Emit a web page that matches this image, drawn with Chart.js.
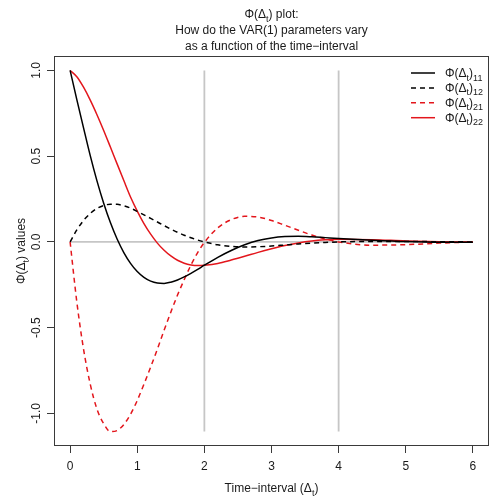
<!DOCTYPE html>
<html>
<head>
<meta charset="utf-8">
<script src="https://cdn.jsdelivr.net/npm/chart.js@4.4.1/dist/chart.umd.min.js"></script>
<style>
html,body{margin:0;padding:0;background:#fff;}
#wrap{width:491px;height:500px;}
</style>
</head>
<body>
<div id="wrap"><canvas id="c" width="491" height="500"></canvas></div>
<script>
// ---- data ----
const t = [0,0.1,0.2,0.3,0.4,0.5,0.6,0.7,0.8,0.9,1.0,1.1,1.2,1.3,1.4,1.5,1.6,1.7,1.8,1.9,2.0,
           2.2,2.4,2.6,2.8,3.0,3.2,3.4,3.6,3.8,4.0,4.5,5.0,5.5,6.0];
const phi11 = [1,0.83,0.665,0.503,0.356,0.226,0.113,0.017,-0.062,-0.125,-0.173,-0.207,-0.229,-0.240,-0.242,-0.235,-0.222,-0.204,-0.183,-0.160,-0.136,
               -0.090,-0.050,-0.017,0.008,0.023,0.031,0.033,0.030,0.025,0.020,0.010,0.002,-0.002,-0.002];
const phi12 = [0,0.07,0.125,0.166,0.195,0.212,0.22,0.219,0.211,0.197,0.178,0.158,0.137,0.116,0.095,0.075,0.056,0.039,0.024,0.011,0.0,
               -0.017,-0.026,-0.030,-0.028,-0.024,-0.018,-0.012,-0.007,-0.003,0.0,0.003,0.003,0.001,0.0];
const phi21 = [0,-0.35,-0.625,-0.83,-0.975,-1.06,-1.106,-1.1,-1.065,-1.005,-0.925,-0.83,-0.73,-0.625,-0.515,-0.41,-0.31,-0.22,-0.135,-0.062,-0.003,
               0.082,0.13,0.149,0.145,0.125,0.097,0.068,0.040,0.017,0.0,-0.019,-0.016,-0.007,0.0];
const phi22 = [1,0.963,0.902,0.827,0.742,0.650,0.553,0.455,0.358,0.262,0.180,0.107,0.045,-0.007,-0.049,-0.082,-0.107,-0.124,-0.134,-0.138,-0.136,
               -0.126,-0.106,-0.084,-0.061,-0.040,-0.021,-0.006,0.005,0.012,0.016,0.013,0.006,0.001,-0.001];
const seriesSubscripts = ['11','12','21','22'];
const xTicks = [0,1,2,3,4,5,6];
const yTicks = [-1.0,-0.5,0.0,0.5,1.0];
const yTickLabels = ['-1.0','-0.5','0.0','0.5','1.0'];
const refVerticalX = [2,4];
const refHorizontalY = 0;

// ---- styles ----
const FONT = '"Liberation Sans", Arial, Helvetica, sans-serif';
const RED = '#e3161c';
const BLACK = '#000000';
const GRAY = '#c6c6c6';
const DASH = [5,4];
const TEXT = '#1a1a1a';

const allY = phi11.concat(phi12, phi21, phi22);
const yDataMin = Math.min(...allY), yDataMax = Math.max(...allY);
const xDataMin = Math.min(...t), xDataMax = Math.max(...t);
const padFrac = 0.04;
const xMin = xDataMin - padFrac*(xDataMax-xDataMin), xMax = xDataMax + padFrac*(xDataMax-xDataMin);
const yMin = yDataMin - padFrac*(yDataMax-yDataMin), yMax = yDataMax + padFrac*(yDataMax-yDataMin);

const pts = arr => arr.map((v,i) => ({x:t[i], y:v}));

const seriesStyle = [
  {color:BLACK, dash:[]},
  {color:BLACK, dash:DASH},
  {color:RED, dash:DASH},
  {color:RED, dash:[]}
];
const seriesData = [phi11, phi12, phi21, phi22];

const datasets = seriesData.map((arr,i) => ({
  label: 'Φ(Δt)' + seriesSubscripts[i],
  data: pts(arr),
  borderColor: seriesStyle[i].color,
  borderDash: seriesStyle[i].dash,
  borderWidth: 1.5,
  pointRadius: 0,
  fill: false,
  cubicInterpolationMode: 'monotone',
  order: 1
}));
datasets.push({
  label: 'ref-h', data: [{x:xDataMin, y:refHorizontalY},{x:xDataMax, y:refHorizontalY}],
  borderColor: GRAY, borderWidth: 1.8, pointRadius: 0, order: 5
});
refVerticalX.forEach(xv => datasets.push({
  label: 'ref-v'+xv, data: [{x:xv, y:yDataMin},{x:xv, y:yDataMax}],
  borderColor: GRAY, borderWidth: 1.8, pointRadius: 0, order: 5
}));

// rich text helpers (for subscripts)
function partsWidth(ctx, parts, size, subSize){
  let w = 0;
  for (const [s, sub] of parts){ ctx.font = (sub?subSize:size)+'px '+FONT; w += ctx.measureText(s).width; }
  return w;
}
function drawParts(ctx, parts, x, y, size, subSize, align){
  const w = partsWidth(ctx, parts, size, subSize);
  let cx = align==='center' ? x - w/2 : (align==='right' ? x - w : x);
  ctx.textAlign = 'left'; ctx.textBaseline = 'alphabetic';
  for (const [s, sub] of parts){
    ctx.font = (sub?subSize:size)+'px '+FONT;
    ctx.fillText(s, cx, y + (sub ? 3.5 : 0));
    cx += ctx.measureText(s).width;
  }
}

const titleLines = [
  [['Φ(Δ',0],['t',1],[') plot:',0]],
  [['How do the VAR(1) parameters vary',0]],
  [['as a function of the time\u2212interval',0]]
];
const xTitle = [['Time\u2212interval (Δ',0],['t',1],[')',0]];
const yTitle = [['Φ(Δ',0],['t',1],[') values',0]];

const decor = {
  id: 'decor',
  afterDraw(chart){
    const ctx = chart.ctx;
    const a = chart.chartArea;
    ctx.save();
    // plot box
    ctx.strokeStyle = '#3a3a3a'; ctx.lineWidth = 1;
    ctx.strokeRect(Math.round(a.left)+0.5, Math.round(a.top)+0.5, Math.round(a.right-a.left)-1, Math.round(a.bottom-a.top)-1);
    ctx.fillStyle = TEXT;
    const cx = (a.left + a.right)/2;
    // title
    const baselines = [a.top-38, a.top-22, a.top-6];
    titleLines.forEach((ln,i) => drawParts(ctx, ln, cx, baselines[i], 12, 9, 'center'));
    // x title
    drawParts(ctx, xTitle, cx, a.bottom + 46, 12, 9, 'center');
    // y title
    ctx.save();
    ctx.translate(a.left - 29, (a.top + a.bottom)/2);
    ctx.rotate(-Math.PI/2);
    drawParts(ctx, yTitle, 0, 0, 12, 9, 'center');
    ctx.restore();
    // legend
    const lx0 = a.right - 78, lx1 = a.right - 54, tx = a.right - 44;
    const rowY0 = a.top + 17, rowH = 14.9;
    seriesData.forEach((arr,i) => {
      const y = rowY0 + i*rowH;
      ctx.save();
      ctx.strokeStyle = seriesStyle[i].color; ctx.lineWidth = 1.5;
      ctx.setLineDash(seriesStyle[i].dash);
      ctx.beginPath(); ctx.moveTo(lx0, y); ctx.lineTo(lx1, y); ctx.stroke();
      ctx.restore();
      ctx.fillStyle = TEXT;
      drawParts(ctx, [['Φ(Δ',0],['t',1],[')',0],[seriesSubscripts[i],1]], tx, y + 4, 12, 9, 'left');
    });
    ctx.restore();
  }
};

new Chart(document.getElementById('c'), {
  type: 'line',
  data: { datasets },
  options: {
    responsive: false,
    animation: false,
    devicePixelRatio: 1,
    layout: { padding: { top: 56, right: 2, left: 0, bottom: 0 } },
    plugins: { legend: { display: false }, title: { display: false }, tooltip: { enabled: false } },
    scales: {
      x: {
        type: 'linear', min: xMin, max: xMax,
        afterBuildTicks: s => { s.ticks = xTicks.map(v => ({value: v})); },
        afterFit: s => { s.height = 54; },
        ticks: { autoSkip: false, maxRotation: 0, minRotation: 0, padding: 6, color: TEXT,
                 font: { family: FONT, size: 12 }, callback: v => String(v) },
        grid: { drawOnChartArea: false, drawTicks: true, tickLength: 7, color: '#3a3a3a', lineWidth: 1 },
        border: { display: false }
      },
      y: {
        type: 'linear', min: yMin, max: yMax,
        afterBuildTicks: s => { s.ticks = yTicks.map(v => ({value: v})); },
        afterFit: s => { s.width = 54; },
        ticks: { autoSkip: false, minRotation: 90, maxRotation: 90, crossAlign: 'center', padding: 0, color: TEXT,
                 font: { family: FONT, size: 12 },
                 callback: v => { const i = yTicks.findIndex(q => Math.abs(q - v) < 1e-9); return i >= 0 ? yTickLabels[i] : ''; } },
        grid: { drawOnChartArea: false, drawTicks: true, tickLength: 7, color: '#3a3a3a', lineWidth: 1 },
        border: { display: false }
      }
    }
  },
  plugins: [decor]
});
</script>
</body>
</html>
